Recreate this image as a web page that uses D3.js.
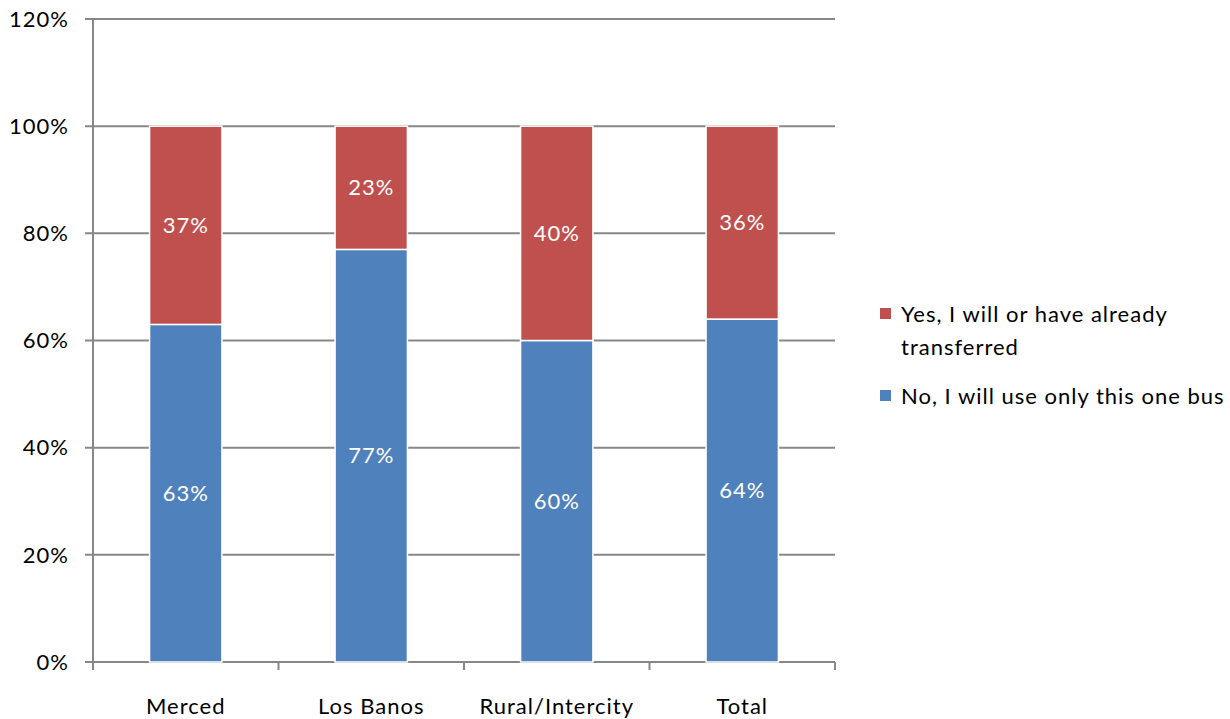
<!DOCTYPE html>
<html>
<head>
<meta charset="utf-8">
<script src="https://cdn.jsdelivr.net/npm/d3@7"></script>
<style>
  html, body { margin: 0; padding: 0; background: #fff; }
  svg text { font-family: Lato, "Open Sans", sans-serif; letter-spacing: 1px; }
</style>
</head>
<body>
<svg id="chart" width="1230" height="719"></svg>
<script>
// Survey results: transfer behaviour by route group
const categories = ["Merced", "Los Banos", "Rural/Intercity", "Total"];
const noTransfer = [63, 77, 60, 64];   // "No, I will use only this one bus"
const yesTransfer = [37, 23, 40, 36];  // "Yes, I will or have already transferred"
const yTicks = [0, 20, 40, 60, 80, 100, 120];
const seriesNames = ["Yes, I will or have already transferred", "No, I will use only this one bus"];
const colors = { yes: "#C0504D", no: "#4F81BD" };
const fontSize = 22;

const svg = d3.select("#chart");
const plot = { left: 93, right: 835, top: 19, bottom: 662 };

const x = d3.scaleBand().domain(categories).range([plot.left, plot.right]).paddingInner(0.61).paddingOuter(0.305);
const y = d3.scaleLinear().domain([0, 120]).range([plot.bottom, plot.top]);

// gridlines with outward ticks on the left
svg.append("g").selectAll("line").data(yTicks).join("line")
  .attr("x1", plot.left - 8).attr("x2", plot.right)
  .attr("y1", d => y(d)).attr("y2", d => y(d))
  .attr("stroke", "#878787").attr("stroke-width", 2);

// y axis line
svg.append("line").attr("x1", plot.left).attr("x2", plot.left).attr("y1", plot.top).attr("y2", plot.bottom)
  .attr("stroke", "#878787").attr("stroke-width", 2);

// category separators on the x axis
const bounds = d3.range(categories.length + 1).map(i => plot.left + i * (plot.right - plot.left) / categories.length);
svg.append("g").selectAll("line").data(bounds).join("line")
  .attr("x1", d => d).attr("x2", d => d).attr("y1", plot.bottom).attr("y2", plot.bottom + 8)
  .attr("stroke", "#878787").attr("stroke-width", 2);

// y tick labels
svg.append("g").selectAll("text").data(yTicks).join("text")
  .attr("x", plot.left - 24).attr("y", d => y(d)).attr("dy", "0.35em")
  .attr("text-anchor", "end").attr("font-size", fontSize).attr("fill", "#000")
  .text(d => d + "%");

// x labels
svg.append("g").selectAll("text").data(categories).join("text")
  .attr("x", d => x(d) + x.bandwidth() / 2).attr("y", plot.bottom + 52)
  .attr("text-anchor", "middle").attr("font-size", fontSize).attr("fill", "#000")
  .text(d => d);

const rows = categories.map((c, i) => ({ c, no: noTransfer[i], yes: yesTransfer[i] }));

// blue (bottom) segments
svg.append("g").selectAll("rect").data(rows).join("rect")
  .attr("x", d => x(d.c)).attr("width", x.bandwidth())
  .attr("y", d => y(d.no)).attr("height", d => y(0) - y(d.no))
  .attr("fill", colors.no).attr("stroke", "#fff").attr("stroke-width", 1.5);

// red (top) segments
svg.append("g").selectAll("rect").data(rows).join("rect")
  .attr("x", d => x(d.c)).attr("width", x.bandwidth())
  .attr("y", d => y(d.no + d.yes)).attr("height", d => y(d.no) - y(d.no + d.yes))
  .attr("fill", colors.yes).attr("stroke", "#fff").attr("stroke-width", 1.5);

// value labels
const lab = svg.append("g").attr("font-size", fontSize).attr("fill", "#fff").attr("text-anchor", "middle");
lab.selectAll("text.no").data(rows).join("text").attr("class", "no")
  .attr("x", d => x(d.c) + x.bandwidth() / 2).attr("y", d => y(d.no / 2)).attr("dy", "0.35em")
  .text(d => d.no + "%");
lab.selectAll("text.yes").data(rows).join("text").attr("class", "yes")
  .attr("x", d => x(d.c) + x.bandwidth() / 2).attr("y", d => y(d.no + d.yes / 2)).attr("dy", "0.35em")
  .text(d => d.yes + "%");

// legend
const lg = svg.append("g");
const legendItems = [
  { lines: ["Yes, I will or have already", "transferred"], color: colors.yes, y: 314 },
  { lines: ["No, I will use only this one bus"], color: colors.no, y: 396 }
];
legendItems.forEach(it => {
  lg.append("rect").attr("x", 880).attr("y", it.y - 6).attr("width", 11).attr("height", 11).attr("fill", it.color);
  const t = lg.append("text").attr("x", 901).attr("y", it.y)
    .attr("font-size", fontSize).attr("fill", "#000");
  it.lines.forEach((l, i) => t.append("tspan").attr("x", 901).attr("dy", i === 0 ? "0.35em" : 33).text(l));
});
</script>
</body>
</html>
